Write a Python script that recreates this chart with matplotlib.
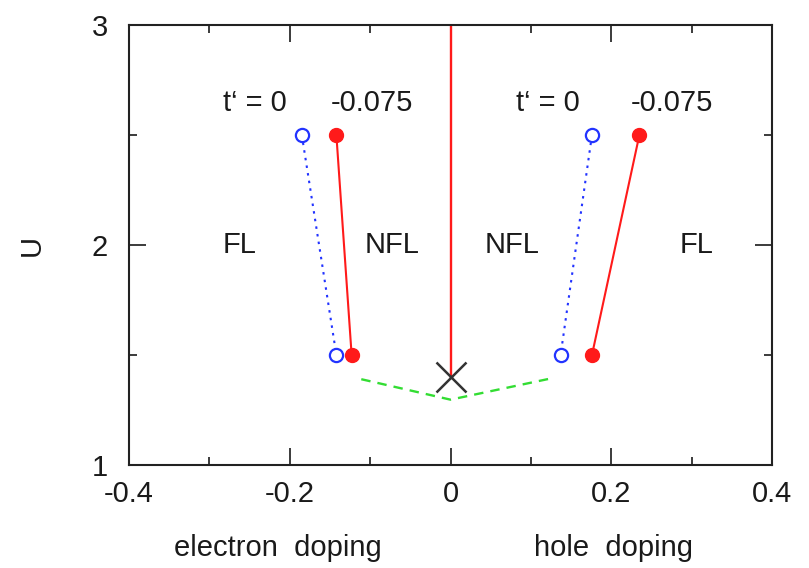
import matplotlib
matplotlib.use("Agg")
import matplotlib.pyplot as plt
from matplotlib.ticker import MultipleLocator
from matplotlib.transforms import blended_transform_factory

plt.rcParams['font.family'] = ['Liberation Sans', 'DejaVu Sans']

# Data (doping, U)
U_levels = [2.5, 1.5]
elec_t0 = [-0.185, -0.142]
elec_t075 = [-0.142, -0.123]
hole_t0 = [0.176, 0.137]
hole_t075 = [0.235, 0.176]
vline_x = [0.0, 0.0]
vline_U = [3.0, 1.4]
cross_x = [0.0]
cross_U = [1.4]
green_x = [-0.111, 0.0, 0.127]
green_U = [1.39, 1.297, 1.395]

text_labels = ["t\u2018 = 0", "-0.075", "t\u2018 = 0", "-0.075", "FL", "NFL", "NFL", "FL"]
text_x = [-0.244, -0.098, 0.121, 0.276, -0.262, -0.073, 0.076, 0.306]
text_U = [2.645, 2.645, 2.645, 2.645, 2.0, 2.0, 2.0, 2.0]

xticks = [-0.4, -0.2, 0, 0.2, 0.4]
xticklabels = ["-0.4", "-0.2", "0", "0.2", "0.4"]
yticks = [1, 2, 3]
yticklabels = ["1", "2", "3"]

W, H = 809, 568
fig = plt.figure(figsize=(W / 100, H / 100), dpi=100)
left, right, top, bottom = 129, 772, 25, 465
ax = fig.add_axes([left / W, 1 - bottom / H, (right - left) / W, (bottom - top) / H])

ax.plot(vline_x, vline_U, color='#ff1a1a', lw=1.7, zorder=2)
ax.plot(green_x, green_U, color='#33dd33', lw=1.7, ls=(0, (4, 3)), zorder=2)
ax.plot(cross_x, cross_U, marker='x', color='#333333', ms=21, mew=1.8, ls='none', zorder=3)

for xs in (elec_t0, hole_t0):
    ax.plot(xs, U_levels, color='#2233ff', lw=1.5, ls=(0, (1.2, 2.5)),
            marker='o', mfc='white', mec='#2233ff', ms=9.5, mew=1.6, zorder=3)
for xs in (elec_t075, hole_t075):
    ax.plot(xs, U_levels, color='#ff1a1a', lw=1.5, ls='-',
            marker='o', mfc='#ff1a1a', mec='#ff1a1a', ms=10, zorder=3)

FS = 21
for s, x, y in zip(text_labels, text_x, text_U):
    ax.text(x, y, s, fontsize=FS, ha='center', va='center', color='#1a1a1a')

ax.set_xlim(-0.4, 0.4)
ax.set_ylim(1, 3)
ax.set_xticks(xticks)
ax.set_xticklabels(xticklabels)
ax.set_yticks(yticks)
ax.set_yticklabels(yticklabels)
ax.xaxis.set_minor_locator(MultipleLocator(0.1))
ax.yaxis.set_minor_locator(MultipleLocator(0.5))
ax.tick_params(which='both', direction='in', top=True, right=True,
               labelsize=FS, colors='#1a1a1a', width=1.2)
ax.tick_params(which='major', length=12)
ax.tick_params(which='minor', length=6)
ax.tick_params(axis='x', which='major', pad=11)
ax.tick_params(axis='y', which='major', pad=15)
for sp in ax.spines.values():
    sp.set_linewidth(1.5)
    sp.set_color('#222222')

ax.set_ylabel("U", fontsize=FS, color='#1a1a1a', va='center')
ax.yaxis.set_label_coords((32 - left) / (right - left), 0.5)
tr = blended_transform_factory(ax.transData, fig.transFigure)
ax.text(-0.215, 1 - 548 / H, "electron  doping", transform=tr, fontsize=FS,
        ha='center', va='center', color='#1a1a1a')
ax.text(0.203, 1 - 548 / H, "hole  doping", transform=tr, fontsize=FS,
        ha='center', va='center', color='#1a1a1a')

fig.savefig("out.png", dpi=100)
